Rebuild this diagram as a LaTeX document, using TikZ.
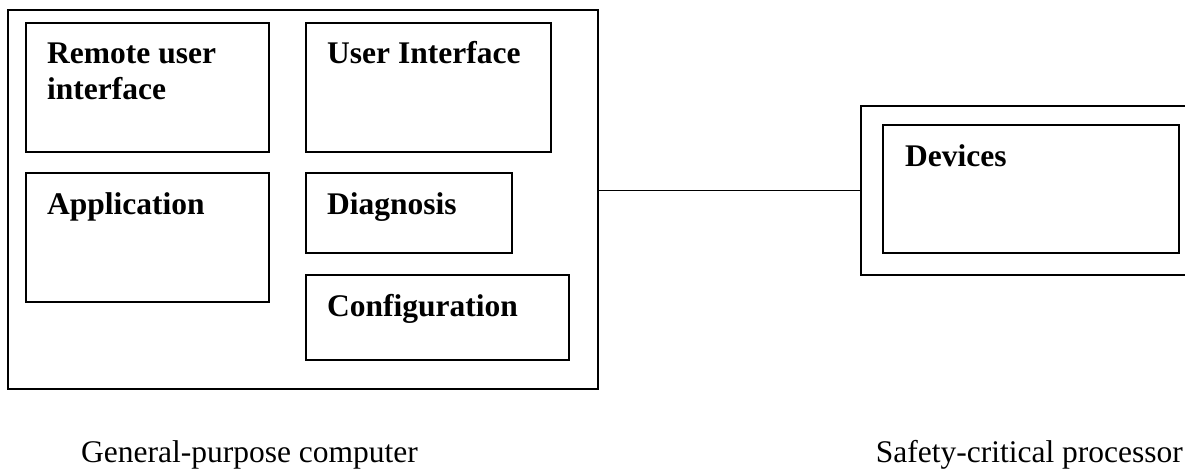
\documentclass[tikz,border=0pt]{standalone}
\usepackage{fontspec}
\setmainfont{Liberation Serif}
\begin{document}
\begin{tikzpicture}[x=1pt,y=-1pt,
  box/.style={draw, line width=1.8pt, inner sep=0pt, outer sep=0pt, anchor=north west},
  lbl/.style={font=\fontsize{31.5}{36}\selectfont\bfseries, anchor=base west, inner sep=0pt},
  captext/.style={font=\fontsize{31.5}{36}\selectfont, inner sep=0pt}
]
\useasboundingbox (0,0) rectangle (1185,470);
% general-purpose computer
\node[box, minimum width=590pt, minimum height=379pt] (gpc) at (8,10) {};
\node[box, minimum width=243pt, minimum height=129pt] (rui) at (26,23) {};
\node[box, minimum width=245pt, minimum height=129pt] (ui) at (306,23) {};
\node[box, minimum width=243pt, minimum height=129pt] (app) at (26,173) {};
\node[box, minimum width=206pt, minimum height=80pt] (diag) at (306,173) {};
\node[box, minimum width=263pt, minimum height=85pt] (conf) at (306,275) {};
% safety-critical processor
\node[box, minimum width=339pt, minimum height=169pt] (scp) at (861,106) {};
\node[box, minimum width=296pt, minimum height=128pt] (dev) at (883,125) {};
% labels
\node[lbl] (ruit) at (47,64) {\vtop{\hbox{Remote user}\hbox{interface}}};
\node[lbl] (uit) at (327,64) {User Interface};
\node[lbl] (appt) at (47,215) {Application};
\node[lbl] (diagt) at (327,215) {Diagnosis};
\node[lbl] (conft) at (327,316) {Configuration};
\node[lbl] (devt) at (905,167) {Devices};
% connector
\draw[line width=1.8pt] (scp.west) -- (scp.west -| gpc.east);
% captions
\node[captext, anchor=base west] (gpcc) at (81,462) {General-purpose computer};
\node[captext, anchor=base east] (scpc) at (1183,462) {Safety-critical processor};
\end{tikzpicture}
\end{document}
